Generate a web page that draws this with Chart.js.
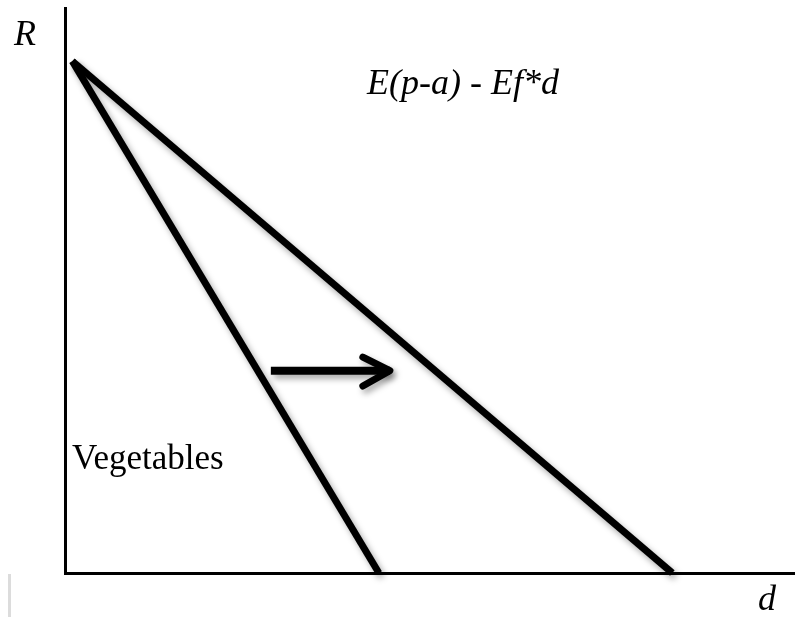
<!DOCTYPE html>
<html>
<head>
<meta charset="utf-8">
<script src="https://cdn.jsdelivr.net/npm/chart.js@4"></script>
<style>
  body { margin: 0; background: #fff; }
  #wrap { position: relative; width: 795px; height: 617px; }
  #tick { position: absolute; left: 8px; top: 574px; width: 3px; height: 43px; background: #dcdcdc; }
</style>
</head>
<body>
<div id="wrap">
  <canvas id="chart"></canvas>
  <div id="tick"></div>
</div>
<script>
// Curve data (axis units 0..10)
const vegX = [0.1, 4.3];
const vegY = [9.06, 0];
const otherX = [0.1, 8.32];
const otherY = [9.06, 0];
const shaftX = [2.82, 4.45];
const shaftY = [3.58, 3.58];
const headX = [4.08, 4.45, 4.08];
const headY = [3.82, 3.58, 3.31];

const labels = {
    y: 'R',
    x: 'd',
    curve: 'E(p-a) - Ef*d',
    veg: 'Vegetables'
};

function pts(xs, ys) {
    return xs.map((x, i) => ({ x: x, y: ys[i] }));
}

// Soft drop shadow behind the lines
const shadowPlugin = {
    id: 'shadow',
    beforeDatasetDraw(chart) {
        const ctx = chart.ctx;
        ctx.save();
        ctx.shadowColor = 'rgba(0,0,0,0.35)';
        ctx.shadowBlur = 6;
        ctx.shadowOffsetX = 3;
        ctx.shadowOffsetY = 4;
    },
    afterDatasetDraw(chart) {
        chart.ctx.restore();
    }
};

// Text labels
const textPlugin = {
    id: 'texts',
    afterDraw(chart) {
        const ctx = chart.ctx;
        ctx.save();
        ctx.fillStyle = '#000';
        ctx.textBaseline = 'alphabetic';
        ctx.font = 'italic 36px "Liberation Serif"';
        ctx.fillText(labels.y, 14, 45);
        ctx.fillText(labels.x, 758, 610);
        ctx.fillText(labels.curve, 367, 94);
        ctx.font = '35px "Liberation Serif"';
        ctx.fillText(labels.veg, 72, 469);
        ctx.restore();
    }
};

const lineStyle = {
    borderColor: '#000',
    borderWidth: 7,
    pointRadius: 0,
    showLine: true,
    fill: false,
    clip: false,
    borderCapStyle: 'butt'
};

new Chart(document.getElementById('chart'), {
    type: 'scatter',
    data: {
        datasets: [
            Object.assign({ data: pts(vegX, vegY) }, lineStyle),
            Object.assign({ data: pts(otherX, otherY) }, lineStyle),
            Object.assign({}, lineStyle, { data: pts(shaftX, shaftY), borderWidth: 8 }),
            Object.assign({}, lineStyle, { data: pts(headX, headY), borderCapStyle: 'round', borderJoinStyle: 'round' })
        ]
    },
    options: {
        responsive: true,
        maintainAspectRatio: false,
        animation: false,
        layout: { padding: { left: 57, top: 8, right: 0, bottom: 36 } },
        plugins: { legend: { display: false }, tooltip: { enabled: false } },
        scales: {
            x: {
                type: 'linear', min: 0, max: 10,
                grid: { display: false },
                ticks: { display: false },
                border: { display: true, color: '#000', width: 3 }
            },
            y: {
                type: 'linear', min: 0, max: 10,
                grid: { display: false },
                ticks: { display: false },
                border: { display: true, color: '#000', width: 3 }
            }
        }
    },
    plugins: [shadowPlugin, textPlugin]
});
</script>
</body>
</html>
